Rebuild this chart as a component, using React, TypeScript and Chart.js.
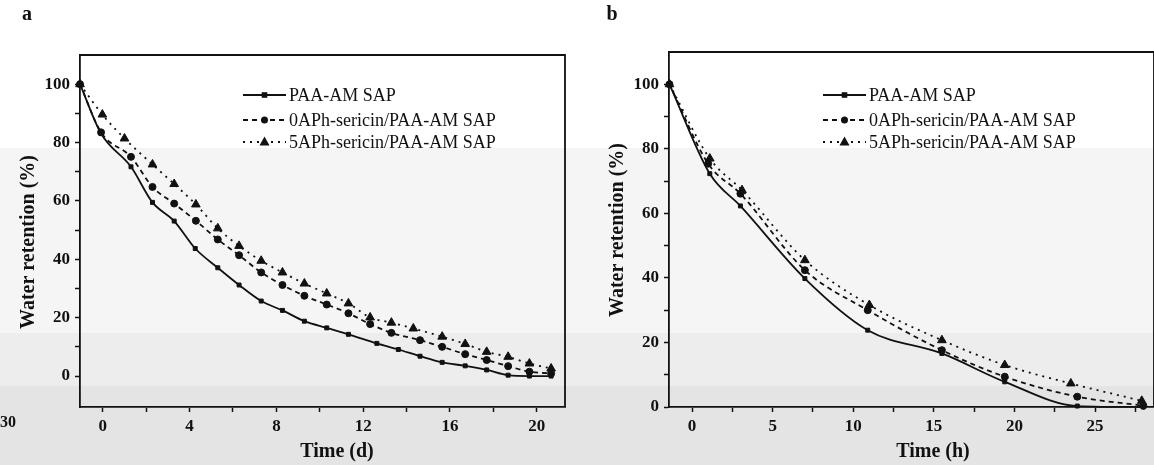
import React, { useEffect, useRef } from "react";
import { Chart, registerables } from "chart.js";

Chart.register(...registerables);

// ---------- shared labels ----------
const seriesLabels = ["PAA-AM SAP", "0APh-sericin/PAA-AM SAP", "5APh-sericin/PAA-AM SAP"];

// ---------- panel a : time in days ----------
const aTimePAA = [-1.05, -0.08, 1.3, 2.29, 3.29, 4.26, 5.3, 6.28, 7.3, 8.28, 9.29, 10.32, 11.32, 12.63, 13.62, 14.62, 15.64, 16.7, 17.69, 18.68, 19.66, 20.66];
const aRetPAA = [100, 83.1, 71.7, 59.5, 53.1, 43.7, 37.1, 31.2, 25.7, 22.5, 18.8, 16.5, 14.3, 11.2, 9.1, 6.8, 4.7, 3.5, 2.1, 0.3, 0, 0];
const aTime0APh = [-1.05, -0.08, 1.3, 2.29, 3.29, 4.29, 5.3, 6.28, 7.3, 8.28, 9.29, 10.32, 11.32, 12.32, 13.3, 14.62, 15.64, 16.7, 17.69, 18.68, 19.66, 20.66];
const aRet0APh = [100, 83.5, 75.1, 64.8, 59.1, 53.2, 46.8, 41.4, 35.5, 31.2, 27.5, 24.5, 21.5, 17.8, 14.8, 12.3, 10, 7.5, 5.5, 3.4, 1.5, 0.9];
const aTime5APh = [-1.05, -0.02, 1.0, 2.29, 3.29, 4.29, 5.3, 6.28, 7.3, 8.28, 9.29, 10.32, 11.32, 12.32, 13.3, 14.31, 15.64, 16.7, 17.69, 18.68, 19.66, 20.66];
const aRet5APh = [100, 89.6, 81.4, 72.5, 65.8, 58.8, 50.6, 44.6, 39.5, 35.5, 31.7, 28.3, 24.9, 20.1, 18.3, 16.3, 13.5, 11, 8.3, 6.6, 4.3, 2.6];
const aXTicks = [0, 2, 4, 6, 8, 10, 12, 14, 16, 18, 20];
const aYTicks = [0, 10, 20, 30, 40, 50, 60, 70, 80, 90, 100];

// ---------- panel b : time in hours ----------
const bTimePAA = [-1.4, 1.1, 3.0, 7.0, 10.9, 15.5, 19.4, 23.9, 28];
const bRetPAA = [100, 72.3, 62.3, 39.8, 23.8, 16.6, 7.8, 0.3, 0];
const bTime0APh = [-1.4, 1.0, 3.0, 7.0, 10.9, 15.5, 19.4, 23.9, 28];
const bRet0APh = [100, 75.4, 66.1, 42.4, 30.0, 17.6, 9.4, 3.2, 0.4];
const bTime5APh = [-1.4, 1.1, 3.1, 7.0, 11.0, 15.5, 19.4, 23.5, 27.9];
const bRet5APh = [100, 77.0, 67.2, 45.5, 31.6, 20.7, 13.0, 7.3, 1.9];
const bXTicks = [0, 2.5, 5, 7.5, 10, 12.5, 15, 17.5, 20, 22.5, 25, 27.5];
const bYTicks = [0, 10, 20, 30, 40, 50, 60, 70, 80, 90, 100];

const INK = "#111111";
const SERIF = '"Liberation Serif", "DejaVu Serif", serif';

function zip(xs: number[], ys: number[]) {
  return xs.map((x, i) => ({ x, y: ys[i] }));
}

function makeDatasets(t1: number[], r1: number[], t2: number[], r2: number[], t3: number[], r3: number[]) {
  const common = {
    borderColor: INK,
    backgroundColor: INK,
    pointBackgroundColor: INK,
    pointBorderColor: INK,
    pointBorderWidth: 1,
    cubicInterpolationMode: "monotone" as const,
    clip: false as const,
  };
  return [
    { ...common, label: seriesLabels[0], data: zip(t1, r1), borderWidth: 1.8, pointStyle: "rect", pointRadius: 2.8 },
    { ...common, label: seriesLabels[1], data: zip(t2, r2), borderWidth: 1.8, borderDash: [5, 4], pointStyle: "circle", pointRadius: 3.5 },
    { ...common, label: seriesLabels[2], data: zip(t3, r3), borderWidth: 1.8, borderDash: [2, 5], pointStyle: "triangle", pointRadius: 5 },
  ];
}

type Deco = {
  letter: string;
  letterX: number;
  xTitle: string;
  xTitleX: number;
  yTitleX: number;
  yTitleY: number;
  extra?: { text: string; x: number; y: number }[];
};

function drawMarker(ctx: CanvasRenderingContext2D, kind: number, x: number, y: number) {
  ctx.save();
  ctx.fillStyle = INK;
  ctx.beginPath();
  if (kind === 0) {
    ctx.rect(x - 2.8, y - 2.8, 5.6, 5.6);
  } else if (kind === 1) {
    ctx.arc(x, y, 3.5, 0, Math.PI * 2);
  } else {
    ctx.moveTo(x, y - 5.5);
    ctx.lineTo(x + 5, y + 3.5);
    ctx.lineTo(x - 5, y + 3.5);
    ctx.closePath();
  }
  ctx.fill();
  ctx.restore();
}

function decoPlugin(d: Deco) {
  return {
    id: "deco",
    afterDraw(chart: any) {
      const ctx: CanvasRenderingContext2D = chart.ctx;
      const a = chart.chartArea;
      ctx.save();
      // frame top and right
      ctx.strokeStyle = INK;
      ctx.lineWidth = 1.8;
      ctx.setLineDash([]);
      ctx.beginPath();
      ctx.moveTo(a.left, a.top);
      ctx.lineTo(a.right, a.top);
      ctx.lineTo(a.right, a.bottom);
      ctx.stroke();

      // legend
      const rows = [95, 120, 142];
      const dashes = [[], [5, 4], [2, 5]];
      rows.forEach((ry, i) => {
        ctx.save();
        ctx.strokeStyle = INK;
        ctx.lineWidth = 1.8;
        ctx.setLineDash(dashes[i]);
        ctx.beginPath();
        ctx.moveTo(243, ry);
        ctx.lineTo(286, ry);
        ctx.stroke();
        ctx.restore();
        drawMarker(ctx, i, 264.5, ry);
        ctx.fillStyle = INK;
        ctx.font = `18px ${SERIF}`;
        ctx.textAlign = "left";
        ctx.textBaseline = "middle";
        ctx.fillText(seriesLabels[i], 289, ry + 1);
      });

      // panel letter
      ctx.fillStyle = INK;
      ctx.font = `bold 20px ${SERIF}`;
      ctx.textAlign = "center";
      ctx.textBaseline = "middle";
      ctx.fillText(d.letter, d.letterX, 15);

      // axis titles
      ctx.font = `bold 20px ${SERIF}`;
      ctx.fillText(d.xTitle, d.xTitleX, 452);
      ctx.save();
      ctx.translate(d.yTitleX, d.yTitleY);
      ctx.rotate(-Math.PI / 2);
      ctx.fillText("Water retention (%)", 0, 0);
      ctx.restore();

      if (d.extra) {
        ctx.font = `bold 16px ${SERIF}`;
        ctx.textAlign = "left";
        d.extra.forEach((e) => ctx.fillText(e.text, e.x, e.y));
      }
      ctx.restore();
    },
  };
}

function makeConfig(opts: {
  datasets: any[];
  xMin: number;
  xMax: number;
  yMin: number;
  yMax: number;
  xTicks: number[];
  yTicks: number[];
  xMajor: number;
  yMajor: number;
  yWidth: number;
  padTop: number;
  padRight: number;
  deco: Deco;
}) {
  const tickFont = { family: SERIF, size: 17, weight: "bold" as const };
  return {
    type: "line" as const,
    data: { datasets: opts.datasets },
    options: {
      animation: false as const,
      responsive: false,
      maintainAspectRatio: false,
      layout: { padding: { top: opts.padTop, right: opts.padRight, left: 0, bottom: 0 } },
      plugins: { legend: { display: false }, tooltip: { enabled: false } },
      scales: {
        x: {
          type: "linear" as const,
          position: "bottom" as const,
          min: opts.xMin,
          max: opts.xMax,
          afterBuildTicks: (s: any) => {
            s.ticks = opts.xTicks.map((v) => ({ value: v }));
          },
          afterFit: (s: any) => {
            s.height = 58;
          },
          border: { display: true, color: INK, width: 1.8 },
          grid: { drawOnChartArea: false, drawTicks: true, tickLength: 5, tickColor: INK, tickWidth: 1.5 },
          ticks: {
            autoSkip: false,
            maxRotation: 0,
            padding: 4,
            color: INK,
            font: tickFont,
            callback: (v: any) => (Math.abs(v % opts.xMajor) < 1e-9 ? String(v) : ""),
          },
        },
        y: {
          type: "linear" as const,
          min: opts.yMin,
          max: opts.yMax,
          afterBuildTicks: (s: any) => {
            s.ticks = opts.yTicks.map((v) => ({ value: v }));
          },
          afterFit: (s: any) => {
            s.width = opts.yWidth;
          },
          border: { display: true, color: INK, width: 1.8 },
          grid: { drawOnChartArea: false, drawTicks: true, tickLength: 5, tickColor: INK, tickWidth: 1.5 },
          ticks: {
            autoSkip: false,
            padding: 5,
            color: INK,
            font: tickFont,
            callback: (v: any) => (Math.abs(v % opts.yMajor) < 1e-9 ? String(v) : ""),
          },
        },
      },
    },
    plugins: [decoPlugin(opts.deco)],
  };
}

function Panel(props: { left: number; width: number; config: any }) {
  const ref = useRef<HTMLCanvasElement | null>(null);
  useEffect(() => {
    if (!ref.current) return;
    const chart = new Chart(ref.current, props.config);
    return () => chart.destroy();
  }, []);
  return (
    <canvas
      ref={ref}
      width={props.width}
      height={465}
      style={{ position: "absolute", left: props.left, top: 0, width: props.width, height: 465 }}
    />
  );
}

export default function App() {
  const configA = makeConfig({
    datasets: makeDatasets(aTimePAA, aRetPAA, aTime0APh, aRet0APh, aTime5APh, aRet5APh),
    xMin: -1.05,
    xMax: 21.3,
    yMin: -10.6,
    yMax: 110,
    xTicks: aXTicks,
    yTicks: aYTicks,
    xMajor: 4,
    yMajor: 20,
    yWidth: 80,
    padTop: 55,
    padRight: 15,
    deco: {
      letter: "a",
      letterX: 27,
      xTitle: "Time (d)",
      xTitleX: 337,
      yTitleX: 29,
      yTitleY: 242,
      extra: [{ text: "30", x: 0, y: 423 }],
    },
  });
  const configB = makeConfig({
    datasets: makeDatasets(bTimePAA, bRetPAA, bTime0APh, bRet0APh, bTime5APh, bRet5APh),
    xMin: -1.43,
    xMax: 28.66,
    yMin: 0,
    yMax: 110,
    xTicks: bXTicks,
    yTicks: bYTicks,
    xMajor: 5,
    yMajor: 20,
    yWidth: 89,
    padTop: 52,
    padRight: 0,
    deco: {
      letter: "b",
      letterX: 32,
      xTitle: "Time (h)",
      xTitleX: 353,
      yTitleX: 38,
      yTitleY: 230,
    },
  });

  return (
    <div
      style={{
        position: "fixed",
        left: 0,
        top: 0,
        width: 1154,
        height: 465,
        overflow: "hidden",
        background: "#ffffff",
      }}
    >
      <div style={{ position: "absolute", left: 0, top: 148, width: 1154, height: 185, background: "#f5f5f5" }} />
      <div style={{ position: "absolute", left: 0, top: 333, width: 1154, height: 53, background: "#ededed" }} />
      <div style={{ position: "absolute", left: 0, top: 386, width: 1154, height: 79, background: "#e4e4e4" }} />
      <Panel left={0} width={580} config={configA} />
      <Panel left={580} width={580} config={configB} />
    </div>
  );
}
